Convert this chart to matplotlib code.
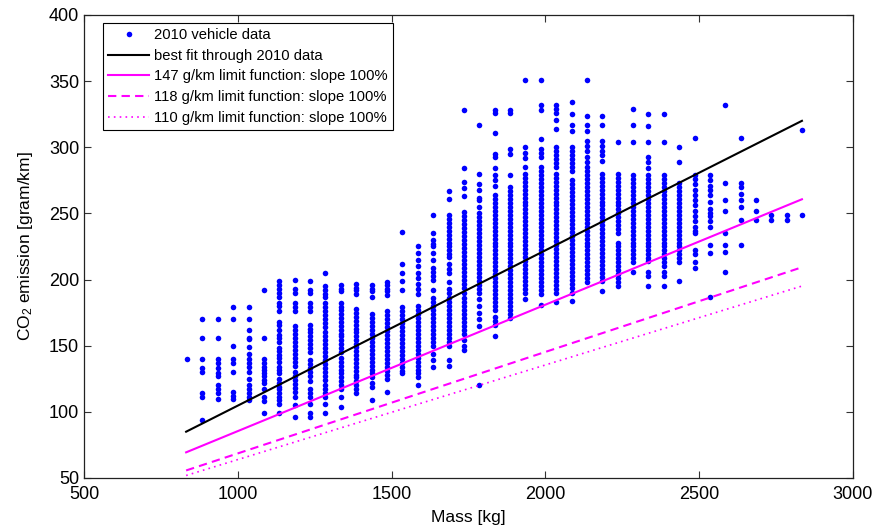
import numpy as np
import matplotlib
matplotlib.use('Agg')
import matplotlib.pyplot as plt

plt.rcParams['font.family'] = ['Liberation Sans', 'DejaVu Sans']
plt.rcParams['mathtext.default'] = 'regular'

# 2010 vehicle data: mass columns (kg) and CO2 values (g/km) read per column
column_mass = [835, 885, 935, 985, 1035, 1085, 1135, 1185, 1235, 1285,
               1335, 1385, 1435, 1485, 1535, 1585, 1635, 1685, 1735, 1785,
               1835, 1885, 1935, 1985, 2035, 2085, 2135, 2185, 2235, 2285,
               2335, 2385, 2435, 2485, 2535, 2585, 2635, 2685, 2735, 2785, 2835]

column_co2 = [
    [140],
    [170, 156, 140, 133, 130, 114, 111, 94],
    [170, 156, 140, 137, 133, 129, 127, 120, 117, 114, 110],
    [179, 170, 150, 140, 137, 130, 115, 112, 110],
    [179, 170, 162, 156, 155, 149, 144, 140, 137, 134, 130, 125, 120, 117, 114, 111, 109],
    [192, 156, 140, 137, 134, 132, 129, 127, 124, 122, 117, 111, 108, 99],
    [199, 196, 193, 190, 187, 182, 180, 176, 168, 166, 162, 158, 156, 153, 148, 146,
     143, 141, 138, 134, 132, 129, 125, 122, 119, 117, 114, 111, 109, 106, 99],
    [200, 193, 190, 182, 179, 176, 165, 162, 159, 156, 153, 150, 147, 144, 141, 138,
     135, 130, 127, 124, 121, 118, 115, 111, 105, 96],
    [199, 192, 190, 182, 179, 176, 166, 163, 160, 157, 154, 151, 148, 145, 139, 136,
     133, 130, 127, 123, 117, 114, 111, 106, 99, 96],
    [205, 195, 192, 189, 187, 182, 179, 176, 173, 170, 167, 164, 160, 157, 154, 151,
     148, 145, 142, 139, 136, 133, 130, 127, 124, 120, 117, 114, 111, 106, 99],
    [196, 193, 191, 182, 179, 177, 174, 171, 168, 165, 162, 159, 157, 154, 151, 148,
     145, 141, 138, 135, 132, 129, 126, 123, 120, 117, 111, 104],
    [197, 194, 192, 189, 178, 175, 172, 169, 166, 163, 160, 157, 154, 151, 149, 146,
     143, 140, 137, 134, 131, 128, 126, 123, 120, 117, 114],
    [196, 193, 191, 187, 174, 171, 168, 165, 162, 159, 156, 153, 150, 147, 144, 141,
     138, 135, 132, 129, 126, 122, 119, 109],
    [198, 196, 193, 191, 188, 176, 173, 170, 167, 164, 161, 158, 155, 152, 149, 146,
     143, 140, 137, 134, 131, 128, 125, 115],
    [236, 212, 205, 199, 192, 179, 176, 173, 170, 167, 164, 161, 158, 155, 152, 149,
     146, 143, 140, 137, 134, 131, 129],
    [225, 220, 215, 210, 205, 201, 197, 193, 189, 180, 177, 174, 171, 168, 165, 162,
     159, 156, 153, 150, 147, 144, 141, 138, 135, 132, 129, 126, 120],
    [249, 235, 230, 227, 225, 220, 215, 209, 206, 203, 200, 192, 186, 183, 180, 177,
     174, 171, 168, 165, 162, 159, 156, 153, 150, 144, 139, 134],
    [267, 261, 249, 246, 243, 240, 237, 234, 231, 228, 225, 222, 219, 217, 212, 208,
     205, 198, 193, 190, 186, 183, 180, 177, 174, 171, 168, 165, 162, 159, 156, 153,
     150, 139, 135],
    [328, 284, 274, 269, 263, 251, 248, 245, 242, 239, 236, 233, 230, 227, 224, 221,
     218, 215, 212, 209, 206, 203, 200, 197, 194, 190, 186, 183, 180, 177, 174, 171,
     168, 165, 162, 159, 154, 150, 147],
    [317, 280, 272, 268, 262, 260, 255, 250, 247, 244, 241, 238, 235, 232, 229, 226,
     223, 220, 217, 214, 211, 208, 205, 202, 199, 196, 193, 190, 185, 180, 175, 170,
     165, 120],
    [328, 326, 311, 295, 293, 284, 279, 275, 271, 264, 261, 258, 255, 252, 249, 246,
     243, 240, 237, 234, 231, 228, 225, 222, 219, 216, 213, 210, 207, 204, 201, 198,
     195, 192, 189, 186, 183, 180, 177, 172, 169, 166, 157],
    [328, 326, 299, 295, 279, 270, 267, 264, 261, 258, 255, 252, 249, 246, 243, 240,
     237, 234, 231, 228, 225, 222, 219, 216, 213, 210, 207, 204, 201, 198, 195, 192,
     189, 186, 183, 180, 177, 174, 171],
    [351, 300, 296, 292, 285, 280, 277, 274, 271, 268, 265, 262, 259, 256, 253, 250,
     247, 244, 241, 238, 235, 232, 229, 226, 223, 220, 217, 214, 211, 208, 205, 202,
     199, 196, 193, 190, 185],
    [351, 332, 328, 306, 299, 296, 293, 285, 282, 279, 276, 273, 270, 267, 264, 261,
     258, 255, 252, 249, 246, 243, 240, 237, 234, 231, 228, 225, 222, 219, 216, 213,
     210, 207, 204, 201, 198, 195, 192, 189, 181],
    [332, 329, 326, 321, 314, 300, 297, 294, 291, 288, 285, 280, 277, 274, 271, 268,
     265, 262, 259, 256, 253, 250, 247, 244, 241, 238, 235, 232, 229, 226, 223, 220,
     217, 214, 211, 208, 205, 202, 199, 196, 193, 190, 183],
    [334, 325, 317, 312, 300, 297, 294, 291, 288, 285, 282, 275, 272, 269, 266, 263,
     260, 257, 254, 251, 248, 245, 242, 239, 236, 233, 230, 227, 224, 221, 218, 215,
     212, 209, 206, 203, 200, 197, 194, 190, 184],
    [351, 324, 317, 312, 305, 301, 297, 293, 289, 285, 282, 279, 276, 273, 270, 267,
     264, 261, 258, 255, 252, 249, 246, 243, 240, 237, 234, 231, 228, 225, 222, 219,
     216, 213, 210, 207, 204, 201, 198],
    [324, 317, 305, 301, 297, 294, 290, 280, 277, 274, 271, 268, 265, 262, 259, 256,
     253, 250, 247, 244, 241, 238, 235, 232, 229, 226, 223, 220, 217, 214, 211, 208,
     205, 202, 199, 191],
    [304, 280, 277, 274, 271, 268, 265, 262, 259, 256, 253, 250, 247, 244, 241, 238,
     235, 228, 225, 222, 219, 216, 213, 210, 207, 204, 201, 198, 195],
    [329, 317, 304, 279, 276, 273, 270, 267, 264, 261, 258, 255, 252, 249, 246, 243,
     240, 237, 234, 231, 228, 225, 222, 219, 216, 213, 206],
    [325, 316, 304, 293, 289, 284, 279, 276, 273, 270, 267, 264, 261, 258, 255, 252,
     249, 246, 243, 240, 237, 234, 231, 228, 225, 222, 219, 216, 214, 206, 203, 195],
    [325, 304, 279, 276, 273, 270, 267, 264, 261, 258, 255, 252, 249, 246, 243, 240,
     237, 234, 231, 228, 225, 222, 219, 216, 213, 210, 206, 203, 195],
    [300, 289, 273, 270, 267, 264, 261, 258, 255, 252, 249, 246, 243, 240, 237, 234,
     231, 228, 225, 222, 219, 216, 213, 199],
    [307, 279, 276, 272, 268, 264, 260, 256, 252, 248, 244, 240, 237, 235, 222, 219, 213, 209],
    [279, 275, 271, 268, 264, 259, 253, 250, 248, 244, 240, 226, 220, 187],
    [332, 273, 260, 252, 235, 226, 221, 206],
    [307, 273, 270, 265, 260, 255, 245, 226],
    [260, 252, 245],
    [249, 245],
    [249, 245],
    [313, 249],
]

# line end points (mass kg, CO2 g/km)
line_mass = [832, 2834]
fit_co2 = [85.0, 320.0]
limit147_co2 = [69.4, 260.7]
limit118_co2 = [55.7, 209.3]
limit110_co2 = [51.9, 195.1]

mass_pts = []
co2_pts = []
for m, vals in zip(column_mass, column_co2):
    mass_pts.extend([m] * len(vals))
    co2_pts.extend(vals)

fig = plt.figure(figsize=(8.81, 5.29), dpi=100)
ax = fig.add_axes([84 / 881, 1 - 478 / 529, (853 - 84) / 881, (478 - 15) / 529])

ax.plot(mass_pts, co2_pts, linestyle='none', marker='o', markersize=4.0,
        markeredgewidth=0, color='#0000ff', label='2010 vehicle data')
ax.plot(line_mass, fit_co2, color='black', lw=1.5,
        label='best fit through 2010 data')
ax.plot(line_mass, limit147_co2, color='#ff00ff', lw=1.5,
        label='147 g/km limit function: slope 100%')
ax.plot(line_mass, limit118_co2, color='#ff00ff', lw=1.5, dashes=(4, 2.5),
        label='118 g/km limit function: slope 100%')
ax.plot(line_mass, limit110_co2, color='#ff00ff', lw=1.2, dashes=(1, 2.5),
        label='110 g/km limit function: slope 100%')

ax.set_xlim(500, 3000)
ax.set_ylim(50, 400)
ax.set_xticks([500, 1000, 1500, 2000, 2500, 3000])
ax.set_yticks([50, 100, 150, 200, 250, 300, 350, 400])
ax.tick_params(direction='in', length=5, top=True, right=True,
               labelsize=13, width=0.8, color='#333333')
ax.tick_params(axis='x', pad=6)
for s in ax.spines.values():
    s.set_linewidth(0.9)
    s.set_color('#222222')

ax.set_xlabel('Mass [kg]', fontsize=12.5, labelpad=5)
ax.set_ylabel('CO$_2$ emission [gram/km]', fontsize=12.5, labelpad=10)

leg = ax.legend(loc='upper left', bbox_to_anchor=(103 / 881, 1 - 23 / 529),
                bbox_transform=fig.transFigure, fontsize=10.6, numpoints=1,
                handlelength=2.8, handletextpad=0.3, labelspacing=0.45,
                borderpad=0.35, borderaxespad=0, fancybox=False,
                framealpha=1, edgecolor='black')
leg.get_frame().set_linewidth(0.8)

fig.savefig('out.png', dpi=100)
